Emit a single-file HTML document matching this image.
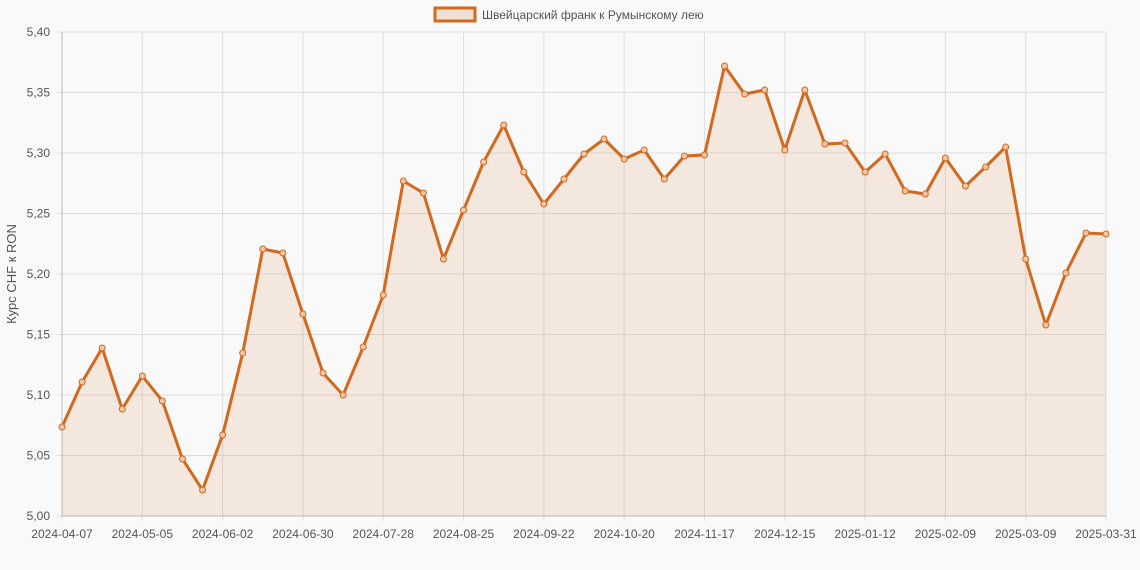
<!DOCTYPE html>
<html><head><meta charset="utf-8"><style>
body{margin:0;background:#f9f9f9;}
svg{display:block;font-family:"Liberation Sans",sans-serif;}
</style></head><body>
<svg width="1140" height="570" xmlns="http://www.w3.org/2000/svg">
<rect width="1140" height="570" fill="#f9f9f9"/>
<g id="grid" stroke="#dedede" stroke-width="1"></g>
<g id="plot"></g>
<g id="labels" font-size="12" fill="#555"></g>
<rect x="435" y="8" width="40" height="13" fill="#f0e0d4" stroke="#d2691e" stroke-width="3"/>
<text x="482" y="19" font-size="12" fill="#555">Швейцарский франк к Румынскому лею</text>
<text transform="translate(16,274) rotate(-90)" text-anchor="middle" font-size="13" fill="#555">Курс CHF к RON</text>
</svg>
<script>
(function(){
const ys=[427,382,348,409,376,401,459,490,435,353,249,253,314,373,395,347,295,181,193,259,210,162,125,172,204,179,154,139,159,150,179,156,155,66,94,90,150,90,144,143,172,154,191,194,158,186,167,147,259,325,273,233,234];
const X0=62,X1=1106,YT=32,YB=516,dx=(X1-X0)/52;
const ns="http://www.w3.org/2000/svg";
function el(t,a,p){const e=document.createElementNS(ns,t);for(const k in a)e.setAttribute(k,a[k]);p.appendChild(e);return e;}
const g=document.getElementById('grid'),p=document.getElementById('plot'),L=document.getElementById('labels');
const yl=["5,40","5,35","5,30","5,25","5,20","5,15","5,10","5,05","5,00"];
for(let i=0;i<9;i++){const y=YT+i*60.5;el('line',{x1:X0-5,x2:X1,y1:y,y2:y},g);const t=el('text',{x:50,y:y+4,'text-anchor':'end'},L);t.textContent=yl[i];}
const xl=["2024-04-07","2024-05-05","2024-06-02","2024-06-30","2024-07-28","2024-08-25","2024-09-22","2024-10-20","2024-11-17","2024-12-15","2025-01-12","2025-02-09","2025-03-09","2025-03-31"];
const idx=[0,4,8,12,16,20,24,28,32,36,40,44,48,52];
idx.forEach((k,j)=>{const x=X0+k*dx;el('line',{x1:x,x2:x,y1:YT,y2:YB+5},g);const t=el('text',{x:x,y:538,'text-anchor':'middle'},L);t.textContent=xl[j];});
el('line',{x1:X0,x2:X0,y1:YT,y2:YB,stroke:'#bbb'},g);
el('line',{x1:X0,x2:X1,y1:YB,y2:YB,stroke:'#bbb'},g);
let d=ys.map((y,i)=>(i?'L':'M')+(X0+i*dx).toFixed(1)+','+y).join(' ');
el('path',{d:d+` L${X1},${YB} L${X0},${YB} Z`,fill:'rgba(210,105,30,0.12)'},p);
el('path',{d:d,fill:'none',stroke:'#d2691e','stroke-width':3,'stroke-linejoin':'round'},p);
ys.forEach((y,i)=>el('circle',{cx:X0+i*dx,cy:y,r:3,fill:'#f0c8a8',stroke:'#d2691e','stroke-width':1},p));
})();
</script>
</body></html>
